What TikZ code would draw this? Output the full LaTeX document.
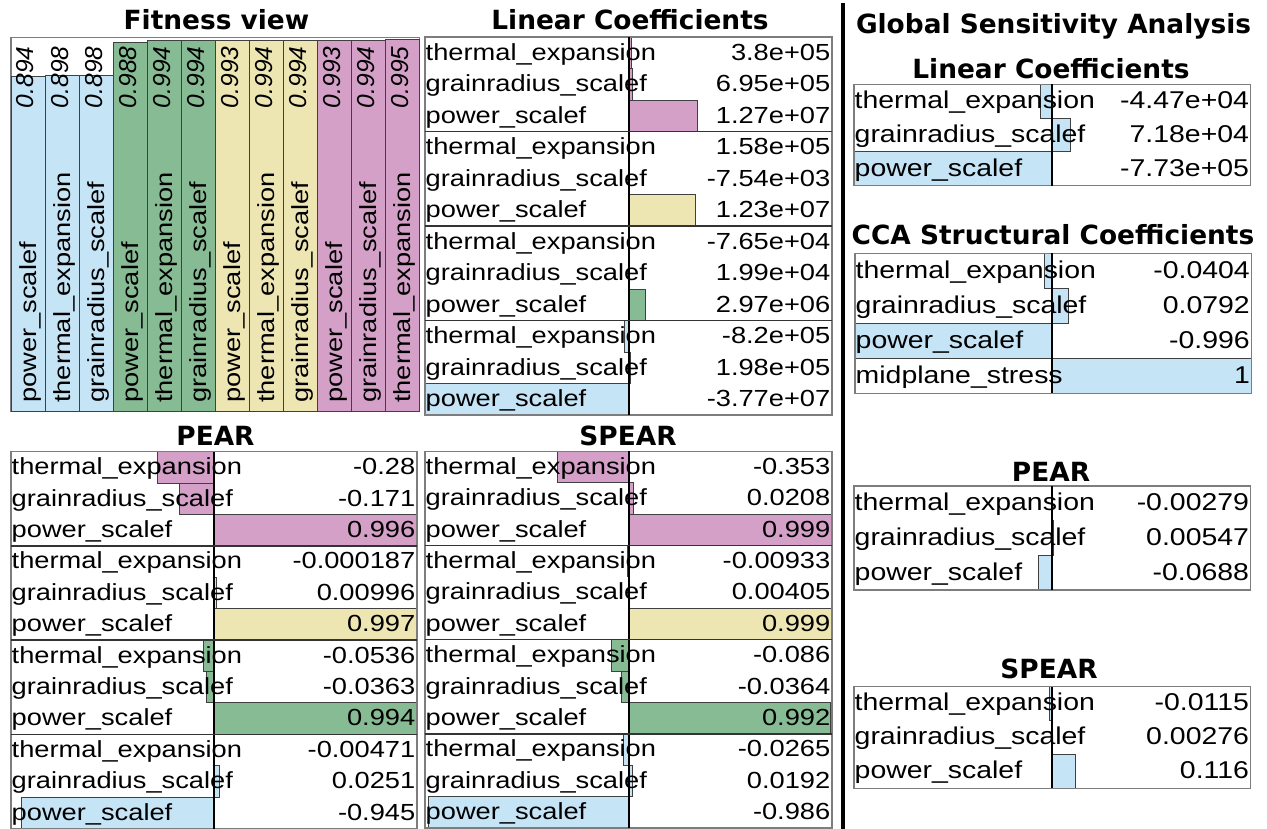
\documentclass[tikz,border=0pt]{standalone}
\usepackage{fontspec}
\setmainfont{Liberation Sans}
\newfontfamily\cellfont[FakeStretch=1.17]{Liberation Sans}
\newfontfamily\titlefont{DejaVu Sans}

\definecolor{cblue}{RGB}{197,228,246}
\definecolor{cgreen}{RGB}{134,187,148}
\definecolor{cyellow}{RGB}{238,230,178}
\definecolor{cpink}{RGB}{212,160,200}
\definecolor{framegray}{RGB}{125,125,125}

\tikzset{
  bar/.style={draw=black!75, line width=0.9pt},
  cell/.style={inner sep=0pt, font=\cellfont\fontsize{23.3}{28}\selectfont},
  cellR/.style={inner sep=0pt, font=\cellfont\fontsize{24.3}{29}\selectfont},
  fitval/.style={inner sep=0pt, font=\fontsize{24.5}{29}\selectfont\itshape},
  title/.style={inner sep=0pt, anchor=base, font=\titlefont\bfseries\fontsize{26.4}{31}\selectfont},
  panelbox/.style={draw=framegray, line width=1.3pt},
  groupsep/.style={draw=black!80, line width=1.3pt},
  zeroaxis/.style={draw=black, line width=2pt},
}

% Horizontal bar table: #1 name, #2 left, #3 right, #4 axis x, #5 top y,
% #6 row height, #7 number of rows, #8 cell style, #9 rows (label/value/bar length/colour)
\newcommand\sapanel[9]{%
  \foreach \lab/\val/\len/\col [count=\i from 0] in {#9}{
    \pgfmathsetmacro\yt{#5+\i*#6}
    \draw[bar, fill=\col] (#4,\yt) rectangle ++(\len,#6);
  }
  \foreach \lab/\val/\len/\col [count=\i from 0] in {#9}{
    \pgfmathsetmacro\yb{#5+\i*#6+0.5*#6+7.3}
    \node[#8, anchor=base west] (#1-l\i) at (#2+0.5,\yb) {\lab};
    \node[#8, anchor=base east] (#1-v\i) at (#3-1.5,\yb) {\val};
  }
  \draw[panelbox] (#2,#5) rectangle (#3,#5+#7*#6);
  \draw[zeroaxis] (#4,#5) -- (#4,#5+#7*#6);
}
% separators between the four groups of a 12-row table
\newcommand\groupseps[4]{%
  \foreach \k in {3,6,9}{
    \draw[groupsep] (#1,#3+\k*#4) -- (#2,#3+\k*#4);
  }
}

\begin{document}
\begin{tikzpicture}[x=1pt,y=-1pt]
\useasboundingbox (0,0) rectangle (1267,829);

% ---------------- Fitness view ----------------
\node[title] (t-fit) at (216.5,30) {Fitness view};
\draw[panelbox, fill=white] (11,37.3) rectangle (419.3,411.7);
\foreach \lab/\v/\col [count=\i from 0] in {
  power\_scalef/0.894/cblue, thermal\_expansion/0.898/cblue, grainradius\_scalef/0.898/cblue,
  power\_scalef/0.988/cgreen, thermal\_expansion/0.994/cgreen, grainradius\_scalef/0.994/cgreen,
  power\_scalef/0.993/cyellow, thermal\_expansion/0.994/cyellow, grainradius\_scalef/0.994/cyellow,
  power\_scalef/0.993/cpink, grainradius\_scalef/0.994/cpink, thermal\_expansion/0.995/cpink}{
  \pgfmathsetmacro\xl{11+34*\i}
  \pgfmathsetmacro\yt{76.7-364*(\v-0.894)}
  \draw[bar, fill=\col] (\xl,\yt) rectangle (\xl+34,411.7);
  \node[cell, rotate=90, anchor=base west] (fit-l\i) at (\xl+25.5,403) {\lab};
  \node[fitval, rotate=90, anchor=base east] (fit-v\i) at (\xl+23,46.5) {\v};
}

% ---------------- Linear Coefficients ----------------
\node[title] (t-lin) at (630,30) {Linear Coefficients};
\sapanel{lin}{425}{832}{629}{37}{31.5}{12}{cell}{
  thermal\_expansion/3.8e+05/2.05/cpink,
  grainradius\_scalef/6.95e+05/3.75/cpink,
  power\_scalef/1.27e+07/68.6/cpink,
  thermal\_expansion/1.58e+05/0.85/cyellow,
  grainradius\_scalef/-7.54e+03/-0.04/cyellow,
  power\_scalef/1.23e+07/66.4/cyellow,
  thermal\_expansion/-7.65e+04/-0.41/cgreen,
  grainradius\_scalef/1.99e+04/0.11/cgreen,
  power\_scalef/2.97e+06/16.0/cgreen,
  thermal\_expansion/-8.2e+05/-4.43/cblue,
  grainradius\_scalef/1.98e+05/1.07/cblue,
  power\_scalef/-3.77e+07/-204/cblue}
\groupseps{425}{832}{37}{31.5}

% ---------------- PEAR ----------------
\node[title] (t-pear) at (215.5,445) {PEAR};
\sapanel{pear}{11}{417}{214}{451.7}{31.4}{12}{cell}{
  thermal\_expansion/-0.28/-57.0/cpink,
  grainradius\_scalef/-0.171/-34.8/cpink,
  power\_scalef/0.996/202.8/cpink,
  thermal\_expansion/-0.000187/-0.04/cyellow,
  grainradius\_scalef/0.00996/2.03/cyellow,
  power\_scalef/0.997/203/cyellow,
  thermal\_expansion/-0.0536/-10.9/cgreen,
  grainradius\_scalef/-0.0363/-7.4/cgreen,
  power\_scalef/0.994/202.4/cgreen,
  thermal\_expansion/-0.00471/-0.96/cblue,
  grainradius\_scalef/0.0251/5.1/cblue,
  power\_scalef/-0.945/-192.4/cblue}
\groupseps{11}{417}{451.7}{31.4}

% ---------------- SPEAR ----------------
\node[title] (t-spear) at (628,445) {SPEAR};
\sapanel{spear}{425}{832}{629}{451.3}{31.4}{12}{cell}{
  thermal\_expansion/-0.353/-71.7/cpink,
  grainradius\_scalef/0.0208/4.2/cpink,
  power\_scalef/0.999/203/cpink,
  thermal\_expansion/-0.00933/-1.9/cyellow,
  grainradius\_scalef/0.00405/0.82/cyellow,
  power\_scalef/0.999/203/cyellow,
  thermal\_expansion/-0.086/-17.5/cgreen,
  grainradius\_scalef/-0.0364/-7.4/cgreen,
  power\_scalef/0.992/201.6/cgreen,
  thermal\_expansion/-0.0265/-5.4/cblue,
  grainradius\_scalef/0.0192/3.9/cblue,
  power\_scalef/-0.986/-200.4/cblue}
\groupseps{425}{832}{451.3}{31.4}

% ---------------- divider ----------------
\coordinate (div-top) at (843,3);
\coordinate (div-bot) at (843,829);
\draw[line width=4pt] (div-top) -- (div-bot);

% ---------------- Global Sensitivity Analysis ----------------
\node[title] (t-gsa) at (1053.5,33.3) {Global Sensitivity Analysis};

\node[title] (t-rlin) at (1051,79) {Linear Coefficients};
\sapanel{rlin}{854}{1250.7}{1052}{84.3}{33.8}{3}{cellR}{
  thermal\_expansion/-4.47e+04/-11.45/cblue,
  grainradius\_scalef/7.18e+04/18.4/cblue,
  power\_scalef/-7.73e+05/-198/cblue}

\node[title] (t-cca) at (1053,244.3) {CCA Structural Coefficients};
\sapanel{cca}{855}{1251.5}{1052.3}{253.3}{35}{4}{cellR}{
  thermal\_expansion/-0.0404/-8.0/cblue,
  grainradius\_scalef/0.0792/15.7/cblue,
  power\_scalef/-0.996/-197.3/cblue,
  midplane\_stress/1/199.2/cblue}

\node[title] (t-rpear) at (1051,481.7) {PEAR};
\sapanel{rpear}{854}{1250.7}{1052}{486}{34.7}{3}{cellR}{
  thermal\_expansion/-0.00279/-0.55/cblue,
  grainradius\_scalef/0.00547/1.08/cblue,
  power\_scalef/-0.0688/-13.6/cblue}

\node[title] (t-rspear) at (1049,678.3) {SPEAR};
\sapanel{rspear}{854}{1250.7}{1052}{686.7}{33.9}{3}{cellR}{
  thermal\_expansion/-0.0115/-2.3/cblue,
  grainradius\_scalef/0.00276/0.55/cblue,
  power\_scalef/0.116/23.0/cblue}

\end{tikzpicture}
\end{document}
